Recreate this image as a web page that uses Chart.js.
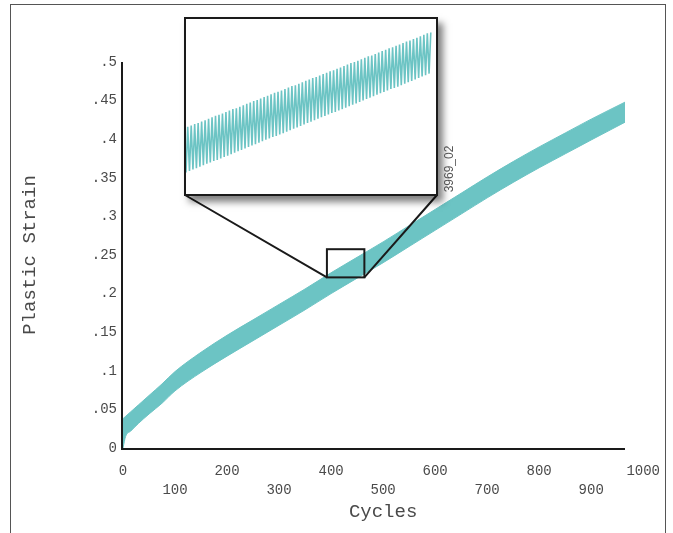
<!DOCTYPE html>
<html>
<head>
<meta charset="utf-8">
<script src="https://cdn.jsdelivr.net/npm/chart.js@4.4.1/dist/chart.umd.min.js"></script>
<style>
  html, body { margin: 0; padding: 0; background: #fff; }
  #wrap { position: relative; width: 673px; height: 533px; overflow: hidden; background: #fff; }
  #main { position: absolute; left: 0; top: 0; }
  #frame { position: absolute; left: 10px; top: 4px; width: 656px; height: 600px; border: 1px solid #555; box-sizing: border-box; pointer-events: none; }
  #insetBox { position: absolute; left: 184px; top: 17px; width: 250px; height: 175px; border: 2px solid #1a1a1a; background: #fff; box-shadow: 5px 6px 7px rgba(0,0,0,0.5); }
  #inset { position: absolute; left: 0; top: 0; }
  #code { position: absolute; left: 449px; top: 169px; transform: translate(-50%, -50%) rotate(-90deg); font-family: "Liberation Sans", Arial, sans-serif; font-size: 12px; color: #555; white-space: nowrap; }
</style>
</head>
<body>
<div id="wrap">
  <canvas id="main" width="673" height="533"></canvas>
  <div id="frame"></div>
  <div id="insetBox"><canvas id="inset" width="250" height="175"></canvas></div>
  <div id="code">3969_02</div>
</div>
<script>
// ---- data ----
const cycles      = [0, 5, 15, 30, 50, 75, 100, 150, 200, 250, 300, 350, 400, 450, 500, 550, 600, 650, 700, 750, 800, 850, 900, 965];
const strainUpper = [0.038, 0.041, 0.047, 0.056, 0.068, 0.083, 0.099, 0.124, 0.146, 0.166, 0.186, 0.206, 0.227, 0.247, 0.267, 0.288, 0.309, 0.330, 0.351, 0.371, 0.390, 0.408, 0.426, 0.448];
const strainLower = [0.000, 0.015, 0.022, 0.032, 0.044, 0.058, 0.074, 0.098, 0.119, 0.139, 0.159, 0.179, 0.200, 0.220, 0.240, 0.261, 0.282, 0.303, 0.324, 0.344, 0.363, 0.381, 0.399, 0.422];

const xTickLabels = ['0', '100', '200', '300', '400', '500', '600', '700', '800', '900', '1000'];
const yTickLabels = ['0', '.05', '.1', '.15', '.2', '.25', '.3', '.35', '.4', '.45', '.5'];

// zoomed window (cycles, strain)
const zoomCycles = [392, 464];
const zoomStrain = [0.221, 0.2575];
const insetFirstCycle = 392;
const insetPeaks = [0.2350, 0.2353, 0.2356, 0.2358, 0.2361, 0.2364, 0.2367, 0.2370, 0.2373, 0.2375,
  0.2378, 0.2381, 0.2384, 0.2387, 0.2389, 0.2392, 0.2395, 0.2398, 0.2401, 0.2404,
  0.2406, 0.2409, 0.2412, 0.2415, 0.2418, 0.2421, 0.2423, 0.2426, 0.2429, 0.2432,
  0.2435, 0.2437, 0.2440, 0.2443, 0.2446, 0.2449, 0.2452, 0.2454, 0.2457, 0.2460,
  0.2463, 0.2466, 0.2468, 0.2471, 0.2474, 0.2477, 0.2480, 0.2483, 0.2485, 0.2488,
  0.2491, 0.2494, 0.2497, 0.2499, 0.2502, 0.2505, 0.2508, 0.2511, 0.2514, 0.2516,
  0.2519, 0.2522, 0.2525, 0.2528, 0.2530, 0.2533, 0.2536, 0.2539, 0.2542, 0.2545, 0.2547];
const insetTroughs = [0.2255, 0.2258, 0.2261, 0.2264, 0.2267, 0.2270, 0.2273, 0.2276, 0.2279, 0.2281,
  0.2284, 0.2287, 0.2290, 0.2293, 0.2296, 0.2299, 0.2302, 0.2305, 0.2308, 0.2311,
  0.2314, 0.2317, 0.2320, 0.2323, 0.2326, 0.2329, 0.2331, 0.2334, 0.2337, 0.2340,
  0.2343, 0.2346, 0.2349, 0.2352, 0.2355, 0.2358, 0.2361, 0.2364, 0.2367, 0.2370,
  0.2373, 0.2376, 0.2379, 0.2381, 0.2384, 0.2387, 0.2390, 0.2393, 0.2396, 0.2399,
  0.2402, 0.2405, 0.2408, 0.2411, 0.2414, 0.2417, 0.2420, 0.2423, 0.2426, 0.2429,
  0.2431, 0.2434, 0.2437, 0.2440, 0.2443, 0.2446, 0.2449, 0.2452, 0.2455, 0.2458, 0.2461];

// ---- styling ----
const TEAL = '#6cc4c4';
const MONO = '"Liberation Mono", "Courier New", monospace';

const axisPlugin = {
  id: 'axesAndZoom',
  afterDatasetsDraw(chart) {
    const {ctx, scales: {x, y}} = chart;
    ctx.save();
    ctx.strokeStyle = '#1a1a1a';
    ctx.lineWidth = 2;
    ctx.beginPath();
    const x0 = x.getPixelForValue(0) - 1;
    ctx.moveTo(x0, y.getPixelForValue(0.5));
    ctx.lineTo(x0, y.getPixelForValue(0) + 1);
    ctx.lineTo(x.getPixelForValue(cycles[cycles.length - 1]), y.getPixelForValue(0) + 1);
    ctx.stroke();
    const rl = x.getPixelForValue(zoomCycles[0]);
    const rr = x.getPixelForValue(zoomCycles[1]);
    const rt = y.getPixelForValue(zoomStrain[1]);
    const rb = y.getPixelForValue(zoomStrain[0]);
    ctx.strokeRect(rl, rt, rr - rl, rb - rt);
    ctx.beginPath();
    ctx.moveTo(185, 195);
    ctx.lineTo(rl, rb);
    ctx.moveTo(437, 195);
    ctx.lineTo(rr, rb);
    ctx.stroke();
    ctx.restore();
  }
};

new Chart(document.getElementById('main'), {
  type: 'line',
  data: {
    datasets: [
      {
        data: cycles.map((c, i) => ({x: c, y: strainLower[i]})),
        borderColor: TEAL, backgroundColor: TEAL, borderWidth: 1, pointRadius: 0, fill: false,
        cubicInterpolationMode: 'monotone'
      },
      {
        data: cycles.map((c, i) => ({x: c, y: strainUpper[i]})),
        borderColor: TEAL, backgroundColor: TEAL, borderWidth: 1, pointRadius: 0, fill: '-1',
        cubicInterpolationMode: 'monotone'
      }
    ]
  },
  options: {
    responsive: false,
    animation: false,
    devicePixelRatio: 1,
    events: [],
    layout: { padding: { top: 62, right: 29, left: 0, bottom: 0 } },
    plugins: { legend: { display: false }, tooltip: { enabled: false } },
    scales: {
      x: {
        type: 'linear', min: 0, max: 1000,
        grid: { display: false, drawTicks: false },
        border: { display: false },
        ticks: {
          stepSize: 100, autoSkip: false, maxRotation: 0, padding: 13,
          font: { family: MONO, size: 14, lineHeight: 1.4 }, color: '#4a4a4a',
          callback: (v, i) => (i % 2 === 1 ? ['', xTickLabels[i]] : xTickLabels[i])
        },
        title: { display: true, text: 'Cycles', font: { family: MONO, size: 19, lineHeight: 1.2 }, color: '#4a4a4a', padding: { top: 0, bottom: 10 } },
        afterFit: (s) => { s.height = 85; }
      },
      y: {
        type: 'linear', min: 0, max: 0.5,
        grid: { display: false, drawTicks: false },
        border: { display: false },
        ticks: {
          stepSize: 0.05, padding: 6,
          font: { family: MONO, size: 14 }, color: '#4a4a4a',
          callback: (v, i) => yTickLabels[i]
        },
        title: { display: true, text: 'Plastic Strain', font: { family: MONO, size: 19, lineHeight: 1.2 }, color: '#4a4a4a', padding: { top: 19, bottom: 0 } },
        afterFit: (s) => { s.width = 123; }
      }
    }
  },
  plugins: [axisPlugin]
});

// inset: zoomed view of individual cycles
const insetPoints = [];
insetPeaks.forEach((p, i) => {
  insetPoints.push({x: insetFirstCycle + i, y: insetTroughs[i]});
  insetPoints.push({x: insetFirstCycle + i + 0.5, y: p});
});

new Chart(document.getElementById('inset'), {
  type: 'line',
  data: {
    datasets: [{
      data: insetPoints,
      borderColor: '#6cc4c4', borderWidth: 1.6, pointRadius: 0, fill: false, tension: 0
    }]
  },
  options: {
    responsive: false,
    animation: false,
    devicePixelRatio: 1,
    events: [],
    layout: { padding: 0 },
    plugins: { legend: { display: false }, tooltip: { enabled: false } },
    scales: {
      x: { type: 'linear', min: zoomCycles[0], max: zoomCycles[1], display: false },
      y: { type: 'linear', min: zoomStrain[0], max: zoomStrain[1], display: false }
    }
  }
});
</script>
</body>
</html>
